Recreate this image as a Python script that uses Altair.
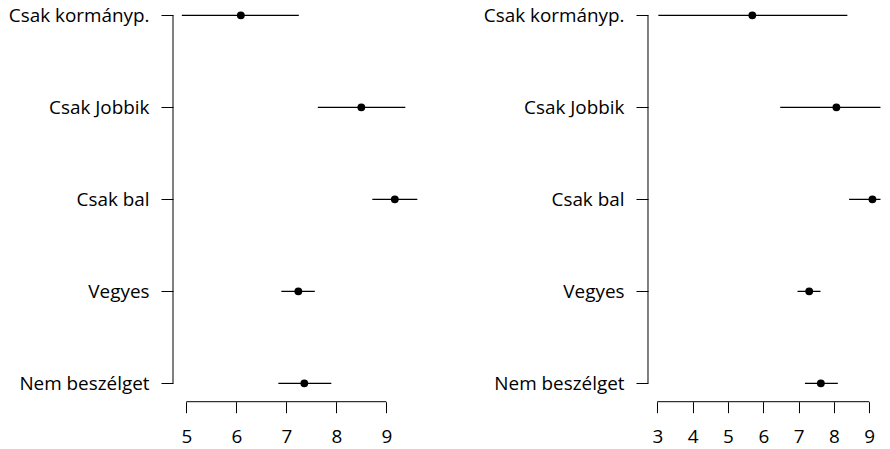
import altair as alt
import pandas as pd

cats = ["Csak kormányp.", "Csak Jobbik", "Csak bal", "Vegyes", "Nem beszélget"]

left_mean = [6.09, 8.50, 9.17, 7.24, 7.36]
left_lo = [4.91, 7.63, 8.72, 6.90, 6.84]
left_hi = [7.25, 9.38, 9.62, 7.57, 7.90]
left_ticks = [5, 6, 7, 8, 9]

right_mean = [5.69, 8.07, 9.09, 7.30, 7.63]
right_lo = [3.03, 6.48, 8.43, 6.97, 7.18]
right_hi = [8.38, 9.66, 9.75, 7.62, 8.11]
right_ticks = [3, 4, 5, 6, 7, 8, 9]

FONT = "Open Sans"
FS = 18.9
H = 382.7


def panel(mean, lo, hi, ticks, dom, width):
    df = pd.DataFrame({"cat": cats, "mean": mean, "lo": lo, "hi": hi})
    yscale = alt.Scale(type="point", domain=cats, padding=0.08)
    xscale = alt.Scale(domain=dom, nice=False, zero=False)
    y = alt.Y("cat:N", sort=cats, scale=yscale,
              axis=alt.Axis(title=None, domain=False, grid=False, tickSize=12,
                            labelPadding=12, labelFontSize=FS, labelFont=FONT,
                            labelColor="black", tickColor="black", tickWidth=1))
    x_axis = alt.Axis(title=None, domain=False, grid=False, values=ticks,
                      tickCount=len(ticks), format="d", labelOverlap=False,
                      tickSize=11, offset=11, labelFontSize=FS, labelFont=FONT,
                      labelColor="black", tickColor="black", tickWidth=1,
                      labelPadding=15, labelFlush=False)
    bars = alt.Chart(df).mark_rule(clip=True, color="black", strokeWidth=1.1).encode(
        x=alt.X("lo:Q", scale=xscale, axis=x_axis), x2="hi:Q", y=y)
    pts = alt.Chart(df).mark_circle(size=62, color="black", opacity=1).encode(
        x=alt.X("mean:Q", scale=xscale, axis=x_axis),
        y=alt.Y("cat:N", sort=cats, scale=yscale))
    ydom = alt.Chart(pd.DataFrame({"c0": [cats[0]], "c1": [cats[-1]]})).mark_rule(
        color="black", strokeWidth=1).encode(
        y=alt.Y("c0:N", sort=cats, scale=yscale), y2="c1:N", x=alt.value(0))
    xdom = alt.Chart(pd.DataFrame({"t0": [ticks[0]], "t1": [ticks[-1]]})).mark_rule(
        color="black", strokeWidth=1).encode(
        x=alt.X("t0:Q", scale=xscale, axis=x_axis), x2="t1:Q", y=alt.value(H + 11))
    return alt.layer(bars, pts, ydom, xdom).properties(width=width, height=H)


left = panel(left_mean, left_lo, left_hi, left_ticks, [4.733, 9.81], 253.8)
right = panel(right_mean, right_lo, right_hi, right_ticks, [2.737, 9.318], 232.5)

chart = alt.hconcat(left, right, spacing=56).resolve_scale(x="independent").properties(
    padding={"left": 0, "top": -2, "right": 0, "bottom": 0},
    background="white").configure_view(stroke=None)

chart.save("out.html", embed_options={"renderer": "svg", "actions": False})
